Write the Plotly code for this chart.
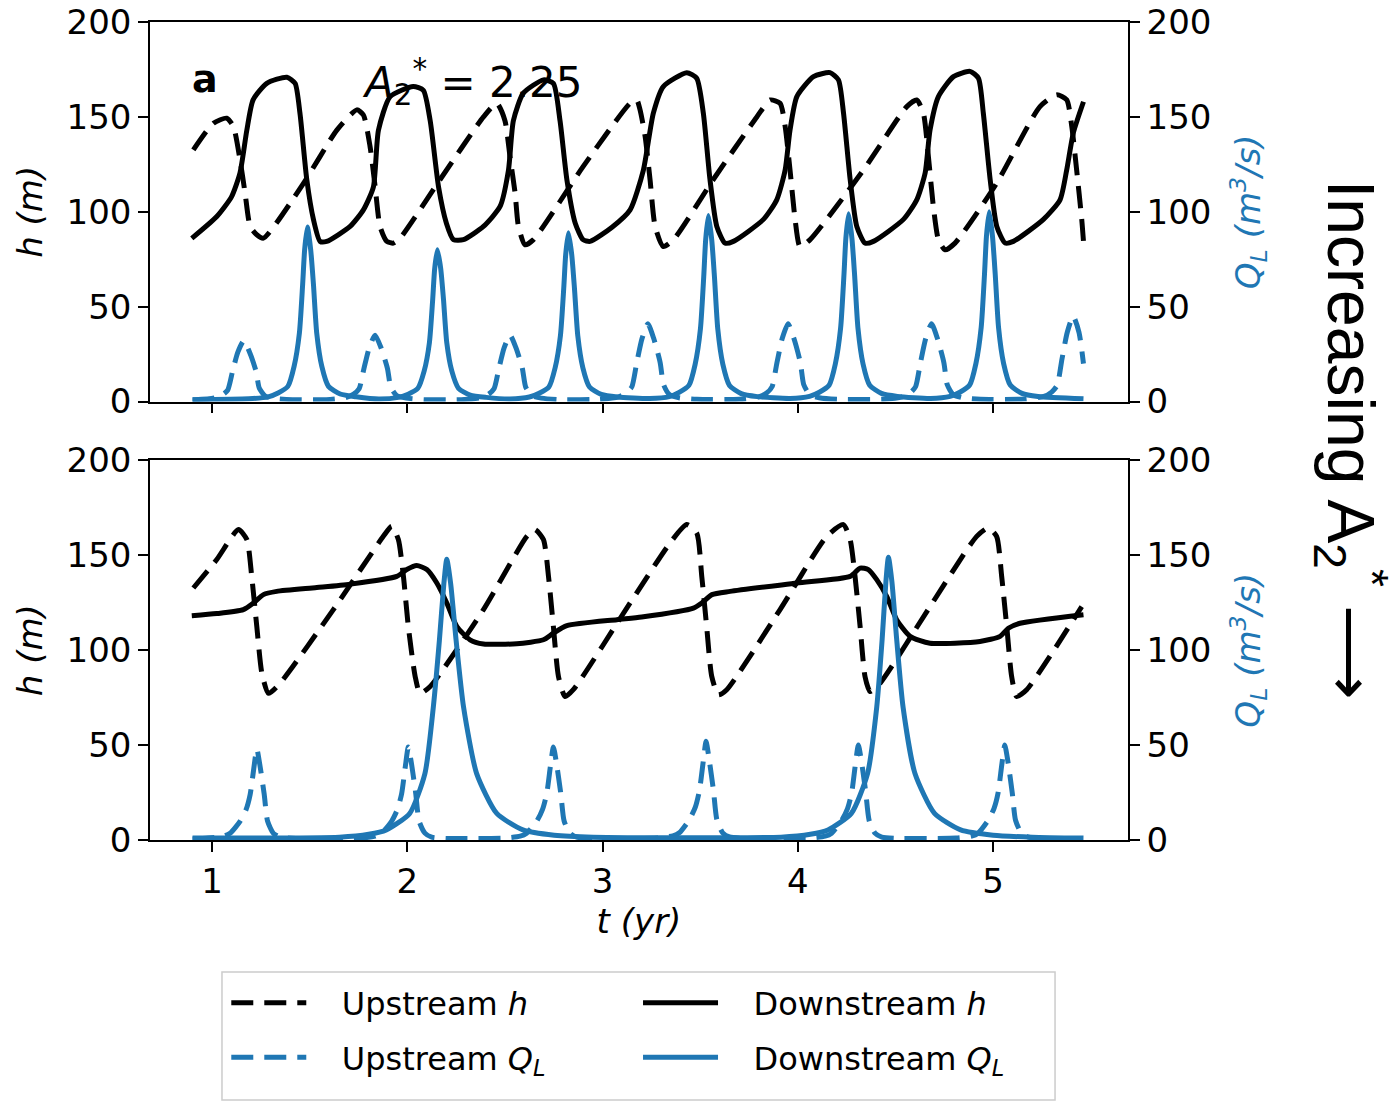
import plotly.graph_objects as go
from plotly.subplots import make_subplots

# panel a  (A2* = 2.25)
t_up_h_a = [0.904, 1.007, 1.075, 1.109, 1.143, 1.169, 1.195, 1.229, 1.263, 1.468, 1.639, 1.741, 1.775, 1.809,
            1.835, 1.86, 1.895, 1.929, 1.963, 2.168, 2.39, 2.458, 2.5, 2.526, 2.552, 2.569, 2.603, 2.646, 2.9,
            3.141, 3.175, 3.192, 3.218, 3.243, 3.269, 3.311, 3.363, 3.567, 3.79, 3.858, 3.909, 3.935, 3.96,
            3.986, 4.011, 4.063, 4.336, 4.558, 4.609, 4.643, 4.669, 4.694, 4.72, 4.754, 4.805, 5.018, 5.24,
            5.326, 5.377, 5.403, 5.428, 5.454, 5.463]
h_up_a = [132.6, 146.7, 149.3, 145, 127.4, 109.8, 92.3, 87.9, 86.1, 115, 143, 153.7, 151, 134.4,
          113.3, 92.3, 84.4, 83.5, 86.1, 117, 150, 157.2, 148, 128.8, 109.8, 92.3, 82.6, 85.3, 123.8,
          157.2, 158.9, 153.7, 139.6, 117, 92.3, 81.7, 85.3, 117, 150, 158.9, 157.2, 145, 122,
          96, 81.7, 85.3, 122, 155.4, 158.9, 152, 128.8, 102.8, 85.3, 80, 83.5, 115, 155.4,
          161.6, 159, 145, 122, 96, 84.4]

t_dn_h_a = [0.896, 1.024, 1.1, 1.143, 1.178, 1.21, 1.28, 1.383, 1.425, 1.45, 1.485, 1.519, 1.553, 1.587,
            1.707, 1.775, 1.826, 1.852, 1.912, 2.03, 2.082, 2.117, 2.16, 2.2, 2.236, 2.287, 2.39, 2.475,
            2.518, 2.543, 2.594, 2.697, 2.748, 2.782, 2.817, 2.86, 2.9, 2.936, 3.05, 3.141, 3.209, 3.26,
            3.311, 3.431, 3.482, 3.516, 3.55, 3.585, 3.627, 3.67, 3.824, 3.892, 3.935, 3.96, 3.995, 4.08,
            4.165, 4.208, 4.234, 4.268, 4.302, 4.344, 4.387, 4.541, 4.609, 4.652, 4.677, 4.72, 4.797,
            4.882, 4.925, 4.95, 4.985, 5.019, 5.062, 5.104, 5.258, 5.343, 5.377, 5.411, 5.463]
h_dn_a = [86, 97.5, 108, 120.5, 143, 159, 167.7, 170.9, 167.7, 152, 117, 96, 84.4, 84.4,
          92.3, 101, 113, 143, 160.7, 166, 164, 148, 113, 94, 85.3, 85.3, 92.3, 102.8,
          122, 148, 162.5, 169.5, 167.7, 148, 117, 94, 85.3, 84.4, 92, 101, 122, 152,
          166, 173.3, 170.4, 152, 117, 92.3, 83.5, 84.4, 96, 106.3, 122, 143, 160.7, 171.2,
          173.3, 169.5, 152, 117, 92.3, 83.5, 84.4, 96, 106.3, 120.4, 143, 160.7, 171.2,
          174, 170.4, 152, 117, 92.3, 83.5, 84.4, 96, 106.3, 122, 141.6, 158]

t_up_q_a = [0.9,
            0.912, 1.012, 1.052, 1.08, 1.105, 1.132, 1.162, 1.192, 1.225, 1.242, 1.272, 1.322, 1.412,
            1.585, 1.685, 1.725, 1.753, 1.778, 1.805, 1.835, 1.865, 1.898, 1.915, 1.945, 1.995, 2.085,
            2.276, 2.376, 2.416, 2.444, 2.469, 2.496, 2.526, 2.556, 2.589, 2.606, 2.636, 2.686, 2.776,
            2.982, 3.082, 3.122, 3.15, 3.175, 3.202, 3.232, 3.262, 3.295, 3.312, 3.342, 3.392, 3.482,
            3.7, 3.8, 3.84, 3.868, 3.893, 3.92, 3.95, 3.98, 4.013, 4.03, 4.06, 4.11, 4.2,
            4.435, 4.535, 4.575, 4.603, 4.628, 4.655, 4.685, 4.715, 4.748, 4.765, 4.795, 4.845, 4.935,
            5.16, 5.26, 5.3, 5.328, 5.353, 5.38, 5.41, 5.44, 5.463]
q_up_a = [1,
          1, 1.9, 3.5, 6, 16, 26, 32, 26, 16, 7, 2.9, 1.6, 1,
          1, 2.1, 3.9, 6.7, 17.5, 28.4, 35, 28.4, 17.5, 7.7, 3.2, 1.8, 1,
          1, 2.1, 3.9, 6.7, 17.5, 28.4, 35, 28.4, 17.5, 7.7, 3.2, 1.8, 1,
          1.2, 2.5, 4.5, 7.8, 20.5, 33.2, 41, 33.2, 20.5, 9, 3.7, 2, 1.2,
          1.2, 2.5, 4.5, 7.8, 20.5, 33.2, 41, 33.2, 20.5, 9, 3.7, 2, 1.2,
          1.2, 2.5, 4.5, 7.8, 20.5, 33.2, 41, 33.2, 20.5, 9, 3.7, 2, 1.2,
          1.3, 2.7, 5, 8.5, 22.5, 36.5, 45, 36.5, 20]

t_dn_q_a = [0.9,
            1.188, 1.288, 1.338, 1.388, 1.42, 1.447, 1.464, 1.474, 1.488, 1.505, 1.519, 1.536, 1.562, 1.596, 1.656, 1.738,
            1.854, 1.954, 2.004, 2.054, 2.086, 2.113, 2.13, 2.14, 2.154, 2.171, 2.185, 2.202, 2.228, 2.262, 2.322, 2.404,
            2.525, 2.625, 2.675, 2.725, 2.757, 2.784, 2.801, 2.811, 2.825, 2.842, 2.856, 2.873, 2.899, 2.933, 2.993, 3.075,
            3.242, 3.342, 3.392, 3.442, 3.474, 3.501, 3.518, 3.528, 3.542, 3.559, 3.573, 3.59, 3.616, 3.65, 3.71, 3.792,
            3.96, 4.06, 4.11, 4.16, 4.192, 4.219, 4.236, 4.246, 4.26, 4.277, 4.291, 4.308, 4.334, 4.368, 4.428, 4.51,
            4.68, 4.78, 4.83, 4.88, 4.912, 4.939, 4.956, 4.966, 4.98, 4.997, 5.011, 5.028, 5.054, 5.088, 5.148, 5.23,
            5.463]
q_dn_a = [1,
          1.5, 2.5, 4.5, 8, 18.5, 36, 62, 80, 92, 80, 62, 36, 18.5, 8, 4, 2.5,
          1.3, 2.2, 3.9, 7, 16, 31, 54, 70, 80, 70, 54, 31, 16, 7, 3.4, 2.2,
          1.4, 2.4, 4.4, 7.7, 17.8, 34.7, 59.6, 77.4, 89, 77.4, 59.6, 34.7, 17.8, 7.7, 3.8, 2.4,
          1.6, 2.6, 4.8, 8.5, 19.6, 38.2, 65.7, 85.3, 98, 85.3, 65.7, 38.2, 19.6, 8.5, 4.2, 2.6,
          1.6, 2.7, 4.9, 8.6, 19.8, 38.6, 66.3, 86.1, 99, 86.1, 66.3, 38.6, 19.8, 8.6, 4.3, 2.7,
          1.6, 2.7, 4.9, 8.7, 20, 39, 67, 87, 100, 87, 67, 39, 20, 8.7, 4.3, 2.7,
          1.5]

# panel b  (A2* = 16)
t_up_h_b = [0.904, 1.024, 1.135, 1.178, 1.203, 1.229, 1.255, 1.289, 1.348, 1.621, 1.877, 1.92, 1.954, 1.98,
            2.005, 2.04, 2.065, 2.117, 2.39, 2.612, 2.654, 2.697, 2.723, 2.748, 2.774, 2.808, 2.85, 3.141,
            3.346, 3.431, 3.482, 3.508, 3.533, 3.559, 3.593, 3.636, 3.909, 4.148, 4.233, 4.268, 4.293,
            4.319, 4.344, 4.37, 4.421, 4.677, 4.916, 4.975, 5.018, 5.044, 5.07, 5.095, 5.121, 5.172, 5.454]
h_up_b = [132.8, 147.8, 163.6, 158.3, 138.9, 112.5, 87.9, 77.3, 82.6, 121.4, 160, 165.3, 158.3, 138.9,
          112.5, 86.2, 77.3, 80.9, 121.4, 160, 163.6, 158.3, 138.9, 112.5, 86.2, 75.6, 79.2, 124.9,
          156.6, 166.2, 161.8, 138.9, 112.5, 86.2, 76.5, 79.2, 121.4, 160, 166.2, 158.3, 138.9,
          112.5, 86.2, 78.2, 82.6, 123, 160, 164.4, 160, 138.9, 112.5, 86.2, 75.6, 79.2, 123]

t_dn_h_b = [0.896, 1.024, 1.16, 1.212, 1.263, 1.331, 1.536, 1.707, 1.946, 1.997, 2.048, 2.1, 2.151, 2.202,
            2.253, 2.321, 2.39, 2.56, 2.697, 2.748, 2.817, 3.073, 3.2, 3.465, 3.508, 3.56, 3.653, 3.995,
            4.268, 4.319, 4.361, 4.404, 4.455, 4.506, 4.575, 4.677, 4.933, 5.036, 5.078, 5.138, 5.463]
h_dn_b = [118.2, 119.3, 121.4, 124.9, 129.3, 131, 133, 134.8, 138.9, 142.5, 144.6, 142.5, 135.4, 124.9,
          112.6, 105.5, 103.3, 103.4, 105.5, 109, 112.9, 116.1, 117.5, 122.2, 124.9, 129.3, 131, 135.4,
          138.9, 143.3, 142.5, 137.2, 128.4, 116.1, 107.3, 103.7, 104.6, 107.3, 111.6, 114.2, 118.7]

t_up_q_b = [0.9,
            0.979, 1.059, 1.092, 1.144, 1.174, 1.195, 1.214, 1.229, 1.244, 1.267, 1.284, 1.314, 1.349, 1.429,
            1.755, 1.835, 1.868, 1.92, 1.95, 1.971, 1.99, 2.005, 2.02, 2.043, 2.06, 2.09, 2.125, 2.205,
            2.498, 2.578, 2.611, 2.663, 2.693, 2.714, 2.733, 2.748, 2.763, 2.786, 2.803, 2.833, 2.868, 2.948,
            3.28, 3.36, 3.393, 3.445, 3.475, 3.496, 3.515, 3.53, 3.545, 3.568, 3.585, 3.615, 3.65, 3.73,
            4.06, 4.14, 4.173, 4.225, 4.255, 4.276, 4.295, 4.31, 4.325, 4.348, 4.365, 4.395, 4.43, 4.51,
            4.81, 4.89, 4.923, 4.975, 5.005, 5.026, 5.045, 5.06, 5.075, 5.098, 5.115, 5.145, 5.18, 5.26,
            5.463]
q_up_b = [0.5,
          1, 2, 3.5, 10, 16, 24, 38, 48, 40, 24, 10, 3.5, 1.5, 0.8,
          1, 2, 3.6, 10, 16.3, 24.5, 39, 49, 41, 24.5, 10, 3.6, 1.5, 0.8,
          1, 2, 3.6, 10, 16.3, 24.5, 39, 49, 41, 24.5, 10, 3.6, 1.5, 0.8,
          1.1, 2.2, 3.8, 10.8, 17.3, 26, 41, 52, 43, 26, 10.8, 3.8, 1.6, 0.8,
          1, 2, 3.6, 10.4, 16.7, 25, 40, 50, 42, 25, 10.4, 3.6, 1.5, 0.8,
          1, 2, 3.6, 10.4, 16.7, 25, 40, 50, 42, 25, 10.4, 3.6, 1.5, 0.8,
          0.8]

t_dn_q_b = [0.9,
            1.652, 1.802, 1.892, 2.012, 2.09, 2.133, 2.164, 2.187, 2.202, 2.222, 2.25, 2.288, 2.355, 2.458, 2.592, 2.752, 2.952,
            3.914, 4.064, 4.154, 4.274, 4.357, 4.404, 4.432, 4.451, 4.464, 4.482, 4.506, 4.539, 4.6, 4.7, 4.834, 5.0, 5.2,
            5.463]
q_dn_b = [1,
          1.5, 3, 5.3, 14, 35, 70, 105, 135, 148, 135, 105, 70, 35, 14, 5.3, 2.5, 1.5,
          1.5, 3, 5.3, 14, 35, 70, 106, 136, 149, 136, 106, 70, 35, 14, 5.3, 2.5, 1.5,
          1]

BLUE = "#1f77b4"
DASH = "22px,11px"
LW = 5
FONT = "DejaVu Sans"
SP = "\u00a0\u00a0\u00a0"

fig = make_subplots(rows=2, cols=1, shared_xaxes=True, vertical_spacing=0.072,
                    specs=[[{"secondary_y": True}], [{"secondary_y": True}]])

panels = [
    (1, t_up_h_a, h_up_a, t_dn_h_a, h_dn_a, t_up_q_a, q_up_a, t_dn_q_a, q_dn_a, True),
    (2, t_up_h_b, h_up_b, t_dn_h_b, h_dn_b, t_up_q_b, q_up_b, t_dn_q_b, q_dn_b, False),
]
for row, tuh, uh, tdh, dh, tuq, uq, tdq, dq, leg in panels:
    fig.add_trace(go.Scatter(x=tuh, y=uh, mode="lines", name=SP + "Upstream <i>h</i>", showlegend=leg,
                             legend="legend", legendgroup="uh",
                             line=dict(color="black", width=LW, dash=DASH, shape="spline", smoothing=0.6)),
                  row=row, col=1, secondary_y=False)
    fig.add_trace(go.Scatter(x=tdh, y=dh, mode="lines", name=SP + "Downstream <i>h</i>", showlegend=leg,
                             legend="legend2", legendgroup="dh",
                             line=dict(color="black", width=LW, shape="spline", smoothing=0.6)),
                  row=row, col=1, secondary_y=False)
    fig.add_trace(go.Scatter(x=tuq, y=uq, mode="lines", name=SP + "Upstream <i>Q<sub>L</sub></i>", showlegend=leg,
                             legend="legend", legendgroup="uq",
                             line=dict(color=BLUE, width=LW, dash=DASH, shape="spline", smoothing=0.6)),
                  row=row, col=1, secondary_y=True)
    fig.add_trace(go.Scatter(x=tdq, y=dq, mode="lines", name=SP + "Downstream <i>Q<sub>L</sub></i>", showlegend=leg,
                             legend="legend2", legendgroup="dq",
                             line=dict(color=BLUE, width=LW, shape="spline", smoothing=0.6)),
                  row=row, col=1, secondary_y=True)

axis_common = dict(showgrid=False, zeroline=False, showline=True, linecolor="black", linewidth=1.5,
                   ticks="outside", ticklen=10, tickwidth=2, tickcolor="black", automargin=False,
                   ticklabeloverflow="allow", tickfont=dict(family=FONT, size=34, color="black"))

fig.update_xaxes(range=[0.682, 5.691], tickvals=[1, 2, 3, 4, 5], mirror=True, domain=[0, 1], **axis_common)
fig.update_xaxes(showticklabels=False, row=1, col=1)
fig.update_xaxes(title=dict(text="<i>t (yr)</i>", font=dict(family=FONT, size=34, color="black"), standoff=10),
                 row=2, col=1)

fig.update_yaxes(range=[0, 200], tickvals=[0, 50, 100, 150, 200], **axis_common)
for row in (1, 2):
    fig.update_yaxes(title=dict(text="<i>h (m)</i>", font=dict(family=FONT, size=34, color="black"), standoff=14),
                     row=row, col=1, secondary_y=False)
    fig.update_yaxes(title=dict(text="<i>Q<sub>L</sub> (m<sup>3</sup>/s)</i>",
                                font=dict(family=FONT, size=34, color=BLUE), standoff=26),
                     row=row, col=1, secondary_y=True)

fig.add_annotation(text="<b>a</b>", xref="x domain", yref="y domain", x=0.041, y=0.913,
                   showarrow=False, font=dict(family=FONT, size=38, color="black"))
fig.add_annotation(text="<b>b</b>", xref="x3 domain", yref="y3 domain", x=0.041, y=0.913,
                   showarrow=False, font=dict(family=FONT, size=38, color="black"))
fig.add_annotation(text="<i>A</i><sub>2</sub><sup>*</sup> = 2.25", xref="x domain", yref="y domain",
                   x=0.215, y=0.925, xanchor="left", showarrow=False,
                   font=dict(family=FONT, size=42, color="black"))
fig.add_annotation(text="<i>A</i><sub>2</sub><sup>*</sup> = 16", xref="x3 domain", yref="y3 domain",
                   x=0.215, y=0.925, xanchor="left", showarrow=False,
                   font=dict(family=FONT, size=42, color="black"))
fig.add_annotation(text="Increasing A<sub>2</sub><sup>*</sup> \u27f6", xref="paper", yref="paper",
                   x=1.228, y=0.489, xanchor="center", yanchor="middle", textangle=90, showarrow=False,
                   font=dict(family="Liberation Sans", size=66, color="black"))

# legend frame
fig.add_shape(type="rect", xref="paper", yref="paper", x0=0.0736, x1=0.9254, y0=-0.3178, y1=-0.1614,
              line=dict(color="#cccccc", width=1.5), fillcolor="white", layer="below")

leg_common = dict(orientation="v", yanchor="top", xanchor="left", tracegroupgap=10, itemwidth=75,
                  bgcolor="rgba(0,0,0,0)", borderwidth=0, font=dict(family=FONT, size=32, color="black"))

fig.update_layout(
    width=1400, height=1111,
    margin=dict(l=142, r=280, t=14, b=279),
    plot_bgcolor="white", paper_bgcolor="white",
    font=dict(family=FONT, size=32, color="black"),
    legend=dict(x=0.078, y=-0.1655, **leg_common),
    legend2=dict(x=0.499, y=-0.1655, **leg_common),
)

fig.write_html("out.html")
